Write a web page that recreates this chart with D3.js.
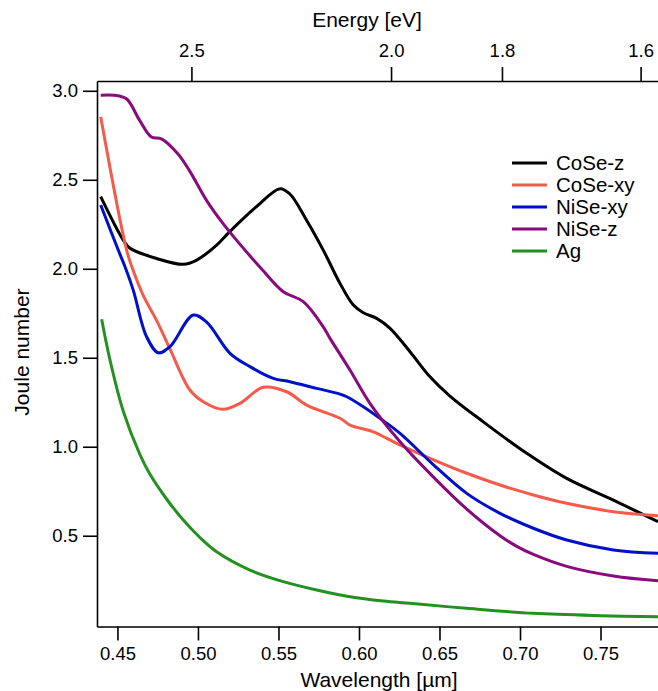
<!DOCTYPE html>
<html lang="en">
<head>
    <meta charset="UTF-8">
    <title>Joule number vs wavelength</title>
    <script src="https://d3js.org/d3.v7.min.js"></script>
    <style>
        body {
            margin: 0;
            padding: 0;
            background: #fff;
        }
        svg text {
            font-family: "Liberation Sans", Arial, Helvetica, sans-serif;
        }
    </style>
</head>
<body>
    <svg id="chart" width="658" height="691"></svg>

    <script>
        // Data: [wavelength in µm, Joule number]
        const coseZ = [
            [0.4396, 2.405], [0.4536, 2.161], [0.4578, 2.115], [0.4743, 2.058], [0.4909, 2.025],
            [0.4992, 2.049], [0.5116, 2.133], [0.5199, 2.21], [0.5365, 2.35], [0.5509, 2.45],
            [0.5571, 2.42], [0.567, 2.28], [0.5778, 2.105], [0.5882, 1.918], [0.5965, 1.796],
            [0.6027, 1.753], [0.611, 1.721], [0.6193, 1.665], [0.6317, 1.534], [0.6441, 1.393],
            [0.6565, 1.285], [0.6772, 1.14], [0.7042, 0.963], [0.729, 0.822], [0.758, 0.70],
            [0.7857, 0.579]
        ];
        const coseXY = [
            [0.4396, 2.854], [0.4557, 2.105], [0.4598, 1.99], [0.466, 1.85], [0.4743, 1.71],
            [0.4826, 1.55], [0.495, 1.319], [0.5033, 1.253], [0.5157, 1.21], [0.5261, 1.244],
            [0.5406, 1.334], [0.5551, 1.309], [0.5675, 1.234], [0.5882, 1.16], [0.5944, 1.122],
            [0.6089, 1.084], [0.6234, 1.019], [0.6441, 0.935], [0.6669, 0.851], [0.6876, 0.785],
            [0.7083, 0.729], [0.729, 0.682], [0.758, 0.635], [0.7857, 0.612]
        ];
        const niseXY = [
            [0.4396, 2.358], [0.4505, 2.105], [0.4547, 2.011], [0.4598, 1.88], [0.4681, 1.618],
            [0.4754, 1.528], [0.4826, 1.562], [0.4971, 1.74], [0.5054, 1.70], [0.5199, 1.525],
            [0.5323, 1.45], [0.5468, 1.384], [0.5571, 1.365], [0.5737, 1.328], [0.5882, 1.296],
            [0.5924, 1.281], [0.6027, 1.225], [0.613, 1.16], [0.6255, 1.075], [0.6461, 0.9],
            [0.6669, 0.738], [0.6876, 0.626], [0.7083, 0.542], [0.729, 0.476], [0.758, 0.42],
            [0.7857, 0.401]
        ];
        const niseZ = [
            [0.4396, 2.975], [0.448, 2.975], [0.4556, 2.955], [0.4637, 2.835], [0.4711, 2.74],
            [0.4773, 2.73], [0.4876, 2.645], [0.4948, 2.55], [0.5052, 2.386], [0.5155, 2.255],
            [0.5259, 2.14], [0.5404, 1.99], [0.553, 1.871], [0.5654, 1.815], [0.5778, 1.674],
            [0.582, 1.609], [0.5944, 1.431], [0.6068, 1.244], [0.6255, 1.028], [0.6461, 0.831],
            [0.6669, 0.65], [0.6876, 0.5], [0.698, 0.44], [0.7083, 0.395], [0.729, 0.328],
            [0.758, 0.274], [0.7857, 0.247]
        ];
        const ag = [
            [0.4402, 1.716], [0.4453, 1.49], [0.4536, 1.2], [0.464, 0.955], [0.4702, 0.845],
            [0.4806, 0.705], [0.4909, 0.588], [0.5012, 0.49], [0.5116, 0.41], [0.5323, 0.307],
            [0.553, 0.242], [0.5737, 0.195], [0.5944, 0.157], [0.6151, 0.133], [0.6317, 0.12],
            [0.6669, 0.092], [0.7083, 0.064], [0.7497, 0.051], [0.7857, 0.045]
        ];

        const seriesNames = ["CoSe-z", "CoSe-xy", "NiSe-xy", "NiSe-z", "Ag"];
        const seriesData = [coseZ, coseXY, niseXY, niseZ, ag];
        const seriesColors = ["#000000", "#f65a4a", "#0010c8", "#880a7c", "#23901f"];

        const wavelengthTicks = [0.45, 0.50, 0.55, 0.60, 0.65, 0.70, 0.75];
        const energyTicks = [2.5, 2.0, 1.8, 1.6];
        const jouleTicks = [0.5, 1.0, 1.5, 2.0, 2.5, 3.0];

        const hc = 1.23984; // eV·µm

        const svg = d3.select("#chart");

        // plot box
        const plotLeft = 97, plotRight = 658, plotTop = 81, plotBottom = 626.5;

        const x = d3.scaleLinear()
            .domain([0.4373, 0.7857])
            .range([plotLeft, plotRight]);

        const y = d3.scaleLinear()
            .domain([-0.01, 3.055])
            .range([plotBottom, plotTop]);

        // curves
        const line = d3.line()
            .x(d => x(d[0]))
            .y(d => y(d[1]))
            .curve(d3.curveCatmullRom.alpha(0.5));

        svg.append("g")
            .selectAll("path")
            .data(seriesData)
            .join("path")
            .attr("fill", "none")
            .attr("stroke", (d, i) => seriesColors[i])
            .attr("stroke-width", 3)
            .attr("stroke-linejoin", "round")
            .attr("d", line);

        // bottom axis (wavelength)
        const xAxis = svg.append("g")
            .attr("transform", `translate(0, ${plotBottom})`)
            .call(d3.axisBottom(x)
                .tickValues(wavelengthTicks)
                .tickFormat(d3.format(".2f"))
                .tickSize(14)
                .tickSizeOuter(0)
                .tickPadding(6));

        // top axis (energy)
        const eAxis = svg.append("g")
            .attr("transform", `translate(0, ${plotTop})`)
            .call(d3.axisTop(x)
                .tickValues(energyTicks.map(e => hc / e))
                .tickFormat((d, i) => d3.format(".1f")(energyTicks[i]))
                .tickSize(14)
                .tickSizeOuter(0)
                .tickPadding(10));

        // left axis
        const yAxis = svg.append("g")
            .attr("transform", `translate(${plotLeft}, 0)`)
            .call(d3.axisLeft(y)
                .tickValues(jouleTicks)
                .tickFormat(d3.format(".1f"))
                .tickSize(14)
                .tickSizeOuter(0)
                .tickPadding(5));

        [xAxis, eAxis, yAxis].forEach(g => {
            g.selectAll("path, line")
                .attr("stroke", "#000")
                .attr("stroke-width", 1.6);
            g.selectAll("text")
                .attr("fill", "#000")
                .style("font-size", "18.5px");
        });

        // axis titles
        svg.append("text")
            .attr("x", 379)
            .attr("y", 687)
            .attr("text-anchor", "middle")
            .style("font-size", "21px")
            .text("Wavelength [µm]");

        svg.append("text")
            .attr("x", 367)
            .attr("y", 27)
            .attr("text-anchor", "middle")
            .style("font-size", "21px")
            .text("Energy [eV]");

        svg.append("text")
            .attr("transform", "rotate(-90)")
            .attr("x", -352)
            .attr("y", 29)
            .attr("text-anchor", "middle")
            .style("font-size", "21px")
            .text("Joule number");

        // legend
        const legend = svg.append("g")
            .attr("transform", "translate(512, 163)");

        const rows = legend.selectAll("g")
            .data(seriesNames)
            .join("g")
            .attr("transform", (d, i) => `translate(0, ${i * 22})`);

        rows.append("line")
            .attr("x1", 0)
            .attr("x2", 35)
            .attr("stroke", (d, i) => seriesColors[i])
            .attr("stroke-width", 3);

        rows.append("text")
            .attr("x", 44)
            .attr("dy", "0.36em")
            .style("font-size", "20.5px")
            .text(d => d);
    </script>
</body>
</html>
